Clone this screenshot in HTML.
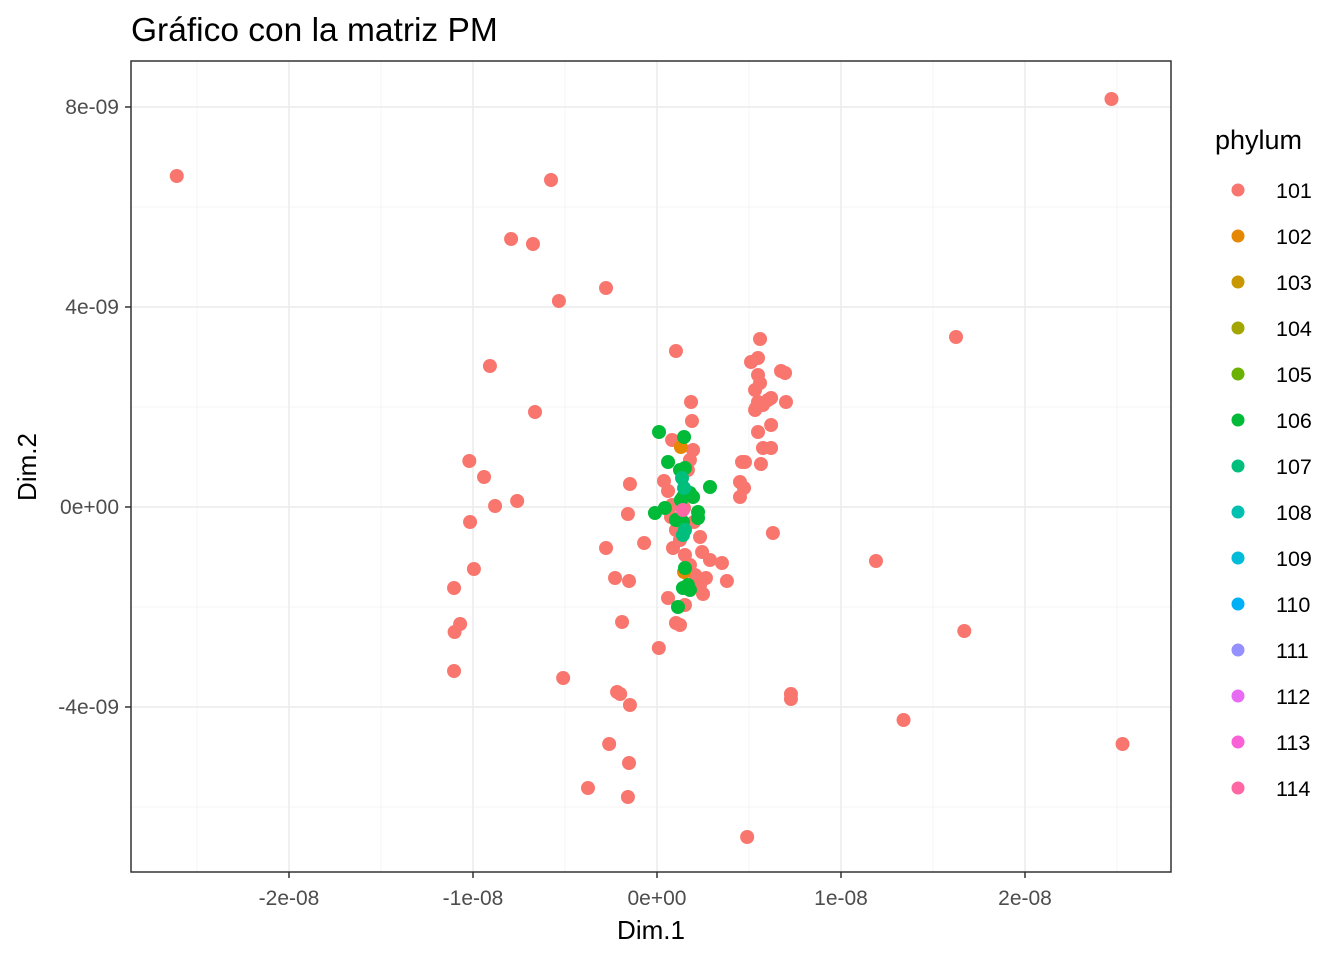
<!DOCTYPE html>
<html><head><meta charset="utf-8"><style>
body{margin:0;background:#fff;}
svg text{font-family:"Liberation Sans",Arial,sans-serif;}
</style></head><body>
<svg id="chart" width="1344" height="960" xmlns="http://www.w3.org/2000/svg">
<rect x="0" y="0" width="1344" height="960" fill="#fff"/>
<text x="131" y="41" font-size="33.5" fill="#000">Gráfico con la matriz PM</text>
<g id="grid"></g>
<g id="pts"></g>
<rect x="131" y="61" width="1040" height="811" fill="none" stroke="#333" stroke-width="1.5"/>
<g id="axes"></g>
<text x="651" y="939" font-size="26" text-anchor="middle">Dim.1</text>
<text transform="translate(36,467) rotate(-90)" font-size="26" text-anchor="middle">Dim.2</text>
<g id="legend"></g>
</svg>
<script>
const levels=["101","102","103","104","105","106","107","108","109","110","111","112","113","114"];
const colors=["#F8766D","#E58700","#C99800","#A3A500","#6BB100","#00BA38","#00BF7D","#00C0AF","#00BCD8","#00B0F6","#9590FF","#E76BF3","#FB61D7","#FF67A4"];
const xTicks=[-2,-1,0,1,2];
const xTickLabels=["-2e-08","-1e-08","0e+00","1e-08","2e-08"];
const yTicks=[8,4,0,-4];
const yTickLabels=["8e-09","4e-09","0e+00","-4e-09"];
// values in units of 1e-9
const redX=[-26.1,24.7,-5.76,-7.93,-6.74,-5.33,-2.77,-9.08,-6.63,16.25,-10.2,-9.4,-8.8,-7.6,-10.16,-9.95,-11.03,-10.7,-11.0,-11.03,-5.1,-2.17,-2.0,-1.47,-2.6,-1.52,-3.75,-1.58,4.9,11.9,16.7,13.4,7.28,7.28,25.3,-2.77,-2.28,-1.52,-1.9,-1.47,-1.58,-0.7,0.1,1.03,1.85,1.9,
0.38,0.6,0.82,1.03,1.25,1.52,1.79,2.07,2.34,2.5,2.66,2.88,2.34,0.87,0.6,1.03,1.52,1.25,1.79,1.96,1.68,0.76,2.01,2.45,3.53,3.8,0.82,1.47,
5.6,5.49,5.11,5.33,5.49,5.6,5.49,5.38,5.76,6.03,6.2,6.74,6.96,7.01,6.2,5.76,6.2,5.65,4.62,4.78,4.51,4.73,4.51,6.3,5.49,5.33];
const redY=[6.62,8.16,6.54,5.36,5.26,4.12,4.38,2.82,1.9,3.4,0.92,0.6,0.02,0.12,-0.3,-1.24,-1.62,-2.34,-2.5,-3.28,-3.42,-3.7,-3.74,-3.96,-4.74,-5.12,-5.62,-5.8,-6.6,-1.08,-2.48,-4.26,-3.74,-3.84,-4.74,-0.82,-1.42,-1.48,-2.3,0.46,-0.14,-0.72,-2.82,3.12,2.1,1.72,
0.52,0.32,0.04,-0.46,-0.66,-0.96,-1.16,-1.36,-1.56,-1.74,-1.42,-1.06,-0.6,-0.82,-1.82,-2.32,-1.96,-2.36,0.94,1.14,0.74,-0.2,-0.3,-0.9,-1.12,-1.48,1.34,-0.02,
3.36,2.98,2.9,2.34,2.64,2.48,2.1,1.98,2.04,2.14,2.18,2.72,2.68,2.1,1.64,1.18,1.18,0.86,0.9,0.9,0.5,0.38,0.2,-0.52,1.5,1.94];
const grnX=[0.11,1.47,0.6,1.25,1.52,2.88,1.79,1.96,1.41,-0.11,0.43,1.03,1.41,2.23,2.23,1.52,1.68,1.41,1.79,1.14,1.3];
const grnY=[1.5,1.4,0.9,0.74,0.78,0.4,0.28,0.2,0.2,-0.12,-0.02,-0.26,-0.3,-0.1,-0.22,-1.22,-1.56,-1.62,-1.66,-2.0,0.14];
const orgX=[1.3,1.47];
const orgY=[1.2,-1.3];
const tealX=[1.36,1.47,1.41,1.52];
const tealY=[0.58,0.38,-0.56,-0.46];
const pinkX=[1.41];
const pinkY=[-0.06];

const X=v=>657+18.4*v, Y=v=>507-50*v;
const NS="http://www.w3.org/2000/svg";
function mk(t,a,p){const e=document.createElementNS(NS,t);for(const k in a)e.setAttribute(k,a[k]);p.appendChild(e);return e;}
const grid=document.getElementById('grid');
mk('rect',{x:131,y:61,width:1040,height:811,fill:'#fff'},grid);
[-2.5,-1.5,-0.5,0.5,1.5,2.5].forEach(v=>{const l=mk('line',{x1:X(v*10),x2:X(v*10),y1:61,y2:872,stroke:'#F5F5F5','stroke-width':1},grid);});
[6,2,-2,-6].forEach(v=>{const l=mk('line',{x1:131,x2:1171,y1:Y(v),y2:Y(v),stroke:'#F5F5F5','stroke-width':1},grid);});
const axes=document.getElementById('axes');
xTicks.forEach((v,i)=>{const l=mk('line',{x1:X(v*10),x2:X(v*10),y1:61,y2:872,stroke:'#EBEBEB','stroke-width':1.5},grid);
mk('line',{x1:X(v*10),x2:X(v*10),y1:872,y2:878,stroke:'#333','stroke-width':1.5},axes);
const t=mk('text',{x:X(v*10),y:905,'font-size':21,'text-anchor':'middle',fill:'#4D4D4D'},axes);t.textContent=xTickLabels[i];});
yTicks.forEach((v,i)=>{const l=mk('line',{x1:131,x2:1171,y1:Y(v),y2:Y(v),stroke:'#EBEBEB','stroke-width':1.5},grid);
mk('line',{x1:125,x2:131,y1:Y(v),y2:Y(v),stroke:'#333','stroke-width':1.5},axes);
const t=mk('text',{x:119,y:Y(v)+7,'font-size':21,'text-anchor':'end',fill:'#4D4D4D'},axes);t.textContent=yTickLabels[i];});
const pts=document.getElementById('pts');
function draw(xs,ys,col,name){xs.forEach((v,i)=>{const c=mk('circle',{cx:X(v),cy:Y(ys[i]),r:7,fill:col},pts);});}
draw(redX,redY,colors[0],'point-101');
draw(orgX,orgY,colors[1],'point-102');
draw(grnX,grnY,colors[5],'point-106');
draw(tealX,tealY,colors[6],'point-107');
draw(pinkX,pinkY,colors[13],'point-114');
const lg=document.getElementById('legend');
const tt=mk('text',{x:1215,y:149,'font-size':27},lg);tt.textContent='phylum';
levels.forEach((l,i)=>{const y=190+46*i;const g=mk('g',{},lg);
mk('circle',{cx:1238,cy:y,r:6.5,fill:colors[i]},g);
const t=mk('text',{x:1276,y:y+8,'font-size':21.5},g);t.textContent=l;});
</script>
</body></html>
